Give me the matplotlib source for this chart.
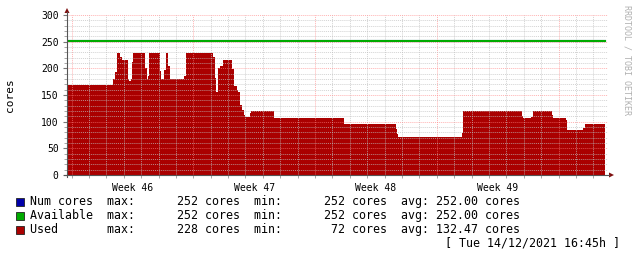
import numpy as np
import matplotlib
matplotlib.use("Agg")
import matplotlib.pyplot as plt
from matplotlib.patches import Rectangle

# Used cores, step changes (start day, value)
used_t = [0.0, 2.64, 2.76, 2.87, 3.05, 3.16, 3.51, 3.56, 3.68, 3.74, 3.79, 4.48, 4.60, 4.66,
          4.71, 5.34, 5.40, 5.57, 5.69, 5.80, 5.92, 6.72, 6.84, 8.39, 8.51, 8.56, 8.68, 8.79,
          8.97, 9.48, 9.60, 9.77, 9.83, 9.94, 10.06, 10.17, 10.23, 10.52, 10.57, 11.90, 15.92,
          18.91, 18.97, 19.05, 22.70, 22.76, 26.15, 26.21, 26.67, 26.78, 27.87, 27.93, 28.68,
          28.74, 29.66, 29.77, 30.92]
used_v = [168, 180, 194, 228, 222, 216, 180, 177, 180, 212, 228, 200, 180, 186,
          228, 195, 180, 196, 228, 204, 180, 185, 228, 222, 181, 156, 200, 204,
          216, 199, 167, 159, 156, 131, 121, 112, 108, 116, 120, 107, 96,
          86, 77, 72, 78, 120, 111, 107, 109, 120, 112, 107, 103,
          84, 88, 96, 96]
num_cores = 252
available = 252

week_starts = [0.26, 7.26, 14.26, 21.26, 28.26]
week_labels = ["Week 46", "Week 47", "Week 48", "Week 49"]

leg_names = ["Num cores", "Available", "Used"]
leg_max = [252, 252, 228]
leg_min = [252, 252, 72]
leg_avg = [252.00, 252.00, 132.47]
leg_colors = ["#0000AA", "#00AA00", "#AA0000"]
stamp = "[ Tue 14/12/2021 16:45h ]"

W, H = 637, 257
fig = plt.figure(figsize=(W / 100, H / 100), dpi=100)
ax = fig.add_axes([67 / W, (H - 175) / H, (608 - 67) / W, 160 / H])
mono = "DejaVu Sans Mono"

t_end = used_t[-1]
ax.fill_between(used_t, used_v, step="post", color="#AA0000", lw=0, zorder=1)
ax.plot([0, t_end], [num_cores, num_cores], color="#0000AA", lw=1.5, zorder=3)
ax.plot([0, t_end], [available, available], color="#00AA00", lw=1.5, zorder=3)

ax.set_xlim(0, 31.1)
ax.set_ylim(0, 300)

# grid (drawn over the area like rrdtool)
days = [week_starts[0] + k for k in range(31)]
for d in days:
    if d in week_starts:
        continue
    ax.axvline(d, color="#c0c0c0", alpha=0.7, lw=0.7, ls=(0, (1, 1)), zorder=2)
for d in week_starts:
    ax.axvline(d, color="#ff8080", alpha=0.6, lw=0.7, ls=(0, (1, 1)), zorder=2)
for y in range(10, 301, 10):
    if y % 50 == 0:
        ax.axhline(y, color="#ff8080", alpha=0.6, lw=0.7, ls=(0, (1, 1)), zorder=2)
    else:
        ax.axhline(y, color="#c0c0c0", alpha=0.7, lw=0.7, ls=(0, (1, 1)), zorder=2)

for s in ax.spines.values():
    s.set_visible(False)

mids = [w + 3.5 for w in week_starts[:-1]]
ax.set_xticks(mids, week_labels, fontfamily=mono, fontsize=7)
ax.set_xticks(days, minor=True)
ax.tick_params(axis="x", which="major", length=0, pad=6)
ax.tick_params(axis="x", which="minor", length=2, color="#999999", direction="out")
ax.set_yticks(range(0, 301, 50))
ax.set_yticklabels([str(v) for v in range(0, 301, 50)], fontfamily=mono, fontsize=7)
ax.set_yticks(range(0, 301, 10), minor=True)
ax.tick_params(axis="y", which="major", length=3, color="#777777", pad=3)
ax.tick_params(axis="y", which="minor", length=2, color="#999999")

# axes with arrows
fig.add_artist(plt.Line2D([67 / W, 67 / W], [(H - 177) / H, (H - 12) / H], color="#555555", lw=0.8))
fig.add_artist(plt.Line2D([64 / W, 609 / W], [(H - 175) / H, (H - 175) / H], color="#555555", lw=0.8))
fig.add_artist(plt.Polygon([[64.5 / W, (H - 13) / H], [69.5 / W, (H - 13) / H], [67 / W, (H - 8) / H]],
                           closed=True, color="#7F1010", lw=0))
fig.add_artist(plt.Polygon([[609 / W, (H - 172.5) / H], [609 / W, (H - 177.5) / H], [614 / W, (H - 175) / H]],
                           closed=True, color="#7F1010", lw=0))

fig.text(10 / W, (H - 95) / H, "cores", rotation=90, ha="center", va="center",
         fontfamily=mono, fontsize=8)
fig.text(627 / W, (H - 5) / H, "RRDTOOL / TOBI OETIKER", rotation=270, ha="center", va="top",
         fontfamily=mono, fontsize=6, color="#b0b0b0")

rows = [201, 215, 229]
for i in range(3):
    y = rows[i]
    fig.add_artist(Rectangle((15.5 / W, (H - y - 4.5) / H), 8 / W, 8 / H, facecolor=leg_colors[i],
                             edgecolor="#222222", lw=0.6))
    line = f"{leg_names[i]:<11}max:   {leg_max[i]:>6} cores  min:   {leg_min[i]:>6} cores  avg: {leg_avg[i]:.2f} cores"
    fig.text(30 / W, (H - y) / H, line, ha="left", va="center", fontfamily=mono, fontsize=8.4)
fig.text(620 / W, (H - 243) / H, stamp, ha="right", va="center", fontfamily=mono, fontsize=8.4)

fig.savefig("out.png", dpi=100)
